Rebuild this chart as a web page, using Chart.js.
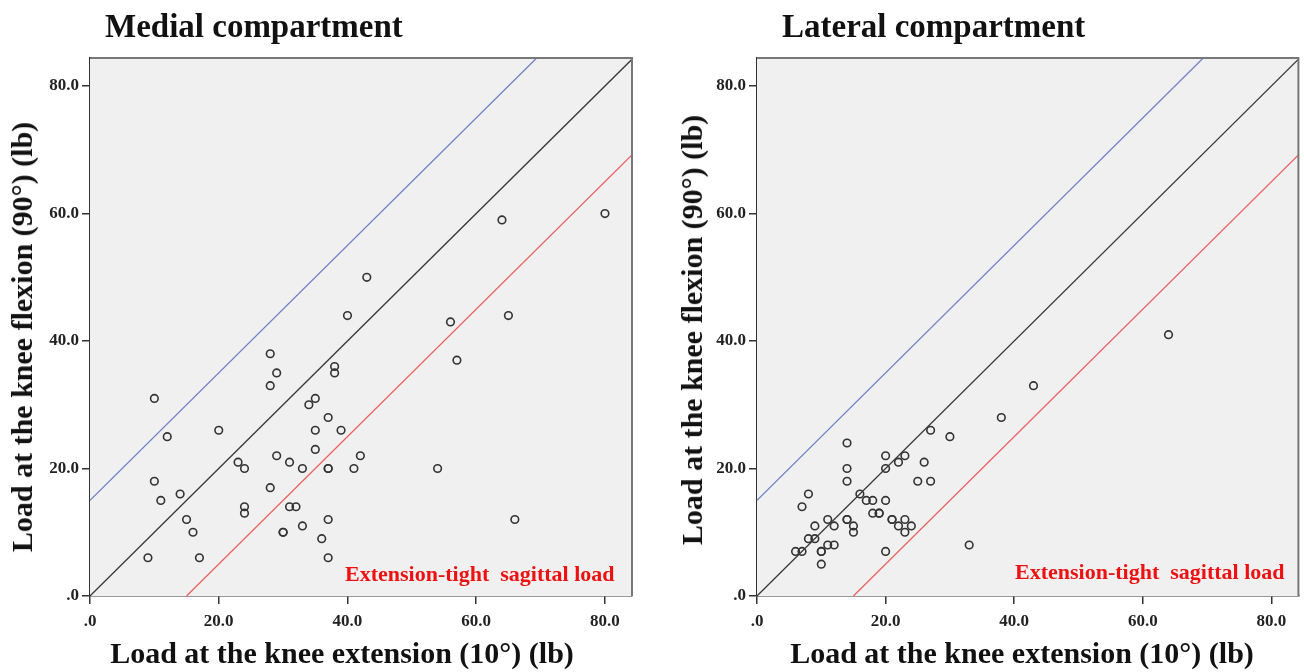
<!DOCTYPE html>
<html>
<head>
<meta charset="utf-8">
<script src="https://cdn.jsdelivr.net/npm/chart.js@4.4.1/dist/chart.umd.min.js"></script>
<style>
  body { margin: 0; background: #fff; width: 1304px; height: 672px; position: relative; overflow: hidden; font-family: "Liberation Serif", "Times New Roman", serif; }
  canvas { position: absolute; top: 0; }
  .txt { position: absolute; white-space: pre; font-weight: bold; color: #111; line-height: 1; }
  .title { font-size: 33px; top: 10px; }
  .xtitle { font-size: 30px; top: 638px; transform: translateX(-50%); }
  .ytitle { font-size: 30px; transform: translate(-50%, -50%) rotate(-90deg); }
  .note { font-size: 22px; color: #ee1111; }
</style>
</head>
<body>
<canvas id="medialChart" width="652" height="672" style="left:0"></canvas>
<canvas id="lateralChart" width="652" height="672" style="left:652px"></canvas>

<div class="txt title" style="left:105px">Medial compartment</div>
<div class="txt title" style="left:782px">Lateral compartment</div>
<div class="txt xtitle" style="left:342px">Load at the knee extension (10°) (lb)</div>
<div class="txt xtitle" style="left:1022px">Load at the knee extension (10°) (lb)</div>
<div class="txt ytitle" style="left:22px; top:337px">Load at the knee flexion (90°) (lb)</div>
<div class="txt ytitle" style="left:692px; top:330px">Load at the knee flexion (90°) (lb)</div>
<div class="txt note" style="left:345px; top:563px">Extension-tight  sagittal load</div>
<div class="txt note" style="left:1015px; top:561px">Extension-tight  sagittal load</div>

<script>
// tick positions shared by both axes
const tickValues = [0, 20, 40, 60, 80];

// medial compartment: load at extension (x) vs load at flexion (y)
const medialExt  = [10, 12, 10, 11, 14, 15, 16, 9, 17, 20, 23, 24, 24, 24, 28, 29, 28, 29, 31, 28, 31, 32, 30, 30, 33, 33, 34, 35, 35, 35, 37, 37, 37, 37, 36, 37, 38, 38, 39, 40, 41, 42, 43, 56, 57, 65, 54, 66, 64, 80];
const medialFlex = [31, 25, 18, 15, 16, 12, 10, 6, 6, 26, 21, 20, 14, 13, 38, 35, 33, 22, 21, 17, 14, 14, 10, 10, 20, 11, 30, 31, 26, 23, 28, 20, 20, 12, 9, 6, 36, 35, 26, 44, 20, 22, 50, 43, 37, 44, 20, 12, 59, 60];

// lateral compartment
const lateralExt  = [6, 7, 7, 8, 8, 9, 9, 10, 10, 10, 11, 12, 11, 12, 14, 14, 14, 14, 14, 15, 15, 16, 17, 18, 18, 19, 19, 20, 20, 20, 20, 21, 21, 22, 23, 22, 23, 23, 24, 25, 26, 27, 27, 30, 33, 38, 43, 64];
const lateralFlex = [7, 7, 14, 16, 9, 9, 11, 7, 7, 5, 8, 8, 12, 11, 24, 20, 18, 12, 12, 11, 10, 16, 15, 15, 13, 13, 13, 22, 20, 15, 7, 12, 12, 21, 22, 11, 12, 10, 11, 18, 21, 26, 18, 25, 8, 28, 33, 41];

// reference lines: equality and +/- 15 lb
const equalX = [0, 90], equalY = [0, 90];
const upperX = [0, 75], upperY = [15, 90];
const lowerX = [15, 90], lowerY = [0, 75];

function toPoints(xs, ys) {
    return xs.map((x, i) => ({ x: x, y: ys[i] }));
}

function tickLabel(v) {
    return v === 0 ? '.0' : v.toFixed(1);
}

// grey plot background and frame
const plotFrame = {
    id: 'plotFrame',
    beforeDatasetsDraw(chart) {
        const { ctx, chartArea: a } = chart;
        ctx.save();
        ctx.fillStyle = '#f0f0f0';
        ctx.fillRect(a.left, a.top, a.width, a.height);
        ctx.restore();
    },
    afterDraw(chart) {
        const { ctx, chartArea: a } = chart;
        ctx.save();
        ctx.strokeStyle = '#777';
        ctx.lineWidth = 2;
        ctx.beginPath();
        ctx.moveTo(a.left, a.top);
        ctx.lineTo(a.right, a.top);
        ctx.lineTo(a.right, a.bottom);
        ctx.stroke();
        ctx.restore();
    }
};

function axis(maxVal, fitFn, pad) {
    return {
        type: 'linear',
        min: 0,
        max: maxVal,
        afterBuildTicks: s => { s.ticks = tickValues.map(v => ({ value: v })); },
        afterFit: fitFn,
        ticks: {
            callback: tickLabel,
            font: { family: 'Liberation Serif', weight: 'bold', size: 17 },
            color: '#222',
            padding: pad,
            maxRotation: 0
        },
        grid: { drawOnChartArea: false, drawTicks: true, tickLength: 8, color: '#333', lineWidth: 1.5 },
        border: { display: true, color: '#333', width: 1.5 }
    };
}

function makeChart(id, xs, ys, yWidth, padRight) {
    const ctx = document.getElementById(id).getContext('2d');
    new Chart(ctx, {
        type: 'scatter',
        data: {
            datasets: [
                {
                    type: 'line',
                    data: toPoints(equalX, equalY),
                    borderColor: '#3a3a3a',
                    borderWidth: 1.3,
                    pointRadius: 0
                },
                {
                    type: 'line',
                    data: toPoints(upperX, upperY),
                    borderColor: '#6d7fc6',
                    borderWidth: 1.3,
                    pointRadius: 0
                },
                {
                    type: 'line',
                    data: toPoints(lowerX, lowerY),
                    borderColor: '#e8605f',
                    borderWidth: 1.3,
                    pointRadius: 0
                },
                {
                    data: toPoints(xs, ys),
                    pointStyle: 'circle',
                    pointRadius: 3.8,
                    backgroundColor: 'rgba(0,0,0,0)',
                    borderColor: '#333',
                    borderWidth: 1.6
                }
            ]
        },
        options: {
            responsive: false,
            animation: false,
            layout: { padding: { top: 58, right: padRight, bottom: 0, left: 0 } },
            plugins: {
                legend: { display: false },
                tooltip: { enabled: false }
            },
            scales: {
                x: axis(84.2, s => { s.height = 76; }, 7),
                y: axis(84.4, s => { s.width = yWidth; }, 3)
            }
        },
        plugins: [plotFrame]
    });
}

makeChart('medialChart', medialExt, medialFlex, 90, 20);
makeChart('lateralChart', lateralExt, lateralFlex, 105, 4);
</script>
</body>
</html>
